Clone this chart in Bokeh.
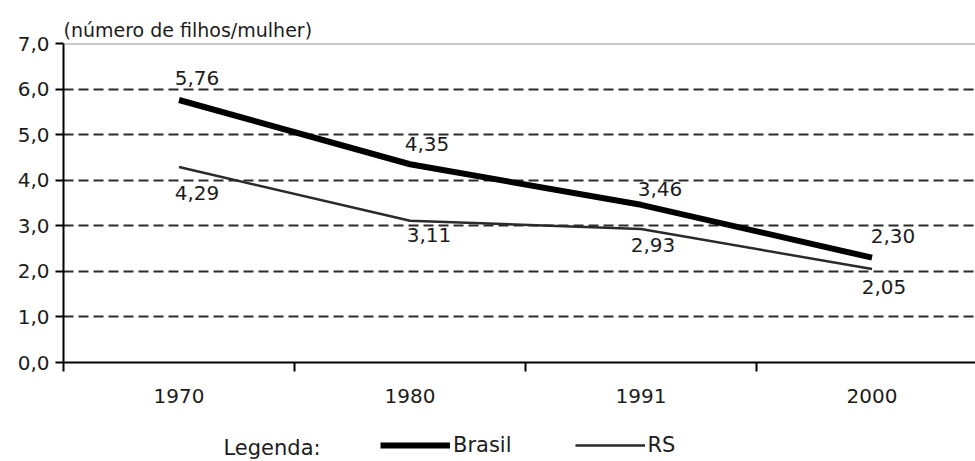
from bokeh.plotting import figure
from bokeh.layouts import column
from bokeh.models import (Range1d, FixedTicker, Span, Legend, LegendItem,
                          Label, ColumnDataSource)
from bokeh.core.properties import value
from bokeh.embed import file_html
from bokeh.resources import INLINE

# Taxa de fecundidade total (número de filhos por mulher)
years = ["1970", "1980", "1991", "2000"]
brasil = [5.76, 4.35, 3.46, 2.30]
rs = [4.29, 3.11, 2.93, 2.05]
y_ticks = [0, 1, 2, 3, 4, 5, 6, 7]
y_tick_labels = ["0,0", "1,0", "2,0", "3,0", "4,0", "5,0", "6,0", "7,0"]

FONT = "DejaVu Sans"
TEXT = "#1c1c1c"
BR_STYLE = dict(line_color="black", line_width=6)
RS_STYLE = dict(line_color="#2a2a2a", line_width=2.5)


def fmt(v):
    return f"{v:.2f}".replace(".", ",")


xpos = list(range(len(years)))

p = figure(width=975, height=415, output_backend="svg", toolbar_location=None,
           x_range=Range1d(-0.5, 3.448), y_range=Range1d(0, 7),
           min_border_left=63, min_border_right=0, min_border_top=43,
           min_border_bottom=53)
p.outline_line_color = None
p.background_fill_color = "white"
p.border_fill_color = "white"

# unit caption above the plot
p.title.text = "(número de filhos/mulher)"
p.title.align = "left"
p.title.text_font = FONT
p.title.text_font_size = "19px"
p.title.text_font_style = "normal"
p.title.text_color = TEXT
p.title.standoff = 6

# horizontal dashed grid, solid grey line at the top
p.xgrid.visible = False
p.ygrid.ticker = FixedTicker(ticks=y_ticks[1:-1])
p.ygrid.grid_line_color = "#2b2b2b"
p.ygrid.grid_line_width = 2
p.ygrid.grid_line_dash = "10 5"
p.add_layout(Span(location=y_ticks[-1], dimension="width",
                  line_color="#8f8f8f", line_width=2))

# y axis
yax = p.yaxis[0]
yax.ticker = FixedTicker(ticks=y_ticks)
yax.major_label_overrides = dict(zip(y_ticks, y_tick_labels))
yax.major_tick_out = 8
yax.major_tick_in = 0
yax.minor_tick_out = 0
yax.minor_tick_in = 0
yax.axis_line_width = 2
yax.major_tick_line_width = 2
yax.axis_line_color = "black"
yax.major_tick_line_color = "black"
yax.major_label_text_font = FONT
yax.major_label_text_font_size = "20px"
yax.major_label_text_color = TEXT
yax.major_label_standoff = 6

# x axis: labels at category centres, tick marks between categories
xax = p.xaxis[0]
bounds = [i - 0.5 for i in range(len(years) + 1)]
xax.ticker = FixedTicker(ticks=xpos, minor_ticks=bounds)
xax.major_label_overrides = dict(zip(xpos, years))
xax.major_tick_out = 0
xax.major_tick_in = 0
xax.minor_tick_out = 9
xax.minor_tick_in = 0
xax.minor_tick_line_width = 2
xax.minor_tick_line_color = "black"
xax.axis_line_width = 2
xax.axis_line_color = "black"
xax.major_label_text_font = FONT
xax.major_label_text_font_size = "20px"
xax.major_label_text_color = TEXT
xax.major_label_standoff = 17

# series
p.line(xpos, brasil, **BR_STYLE)
p.line(xpos, rs, **RS_STYLE)

# value labels beside each point
lab = ColumnDataSource(dict(
    x=xpos + xpos,
    y=brasil + rs,
    text=[fmt(v) for v in brasil + rs],
    dx=[18, 17, 19, 21, 18, 19, 12, 12],
    dy=[-22, -20, -16, -22, 26, 14, 16, 18],
))
p.text(x="x", y="y", text="text", x_offset="dx", y_offset="dy", source=lab,
       text_font=value(FONT), text_font_size="20px", text_color=TEXT,
       text_align="center", text_baseline="middle")

# legend strip under the chart; its key renderers sit outside the visible range
leg = figure(width=975, height=46, output_backend="svg", toolbar_location=None,
             x_range=Range1d(0, 1), y_range=Range1d(0, 1),
             x_axis_type=None, y_axis_type=None, min_border=0)
leg.outline_line_color = None
leg.grid.visible = False
leg.background_fill_color = "white"
leg.border_fill_color = "white"
key_br = leg.line([-2, -1], [-2, -2], **BR_STYLE)
key_rs = leg.line([-2, -1], [-2, -2], **RS_STYLE)
legend = Legend(items=[LegendItem(label="Brasil", renderers=[key_br]),
                       LegendItem(label="RS", renderers=[key_rs])],
                orientation="horizontal", location=(317, 4),
                glyph_width=70, glyph_height=20, label_height=20,
                label_standoff=3, spacing=63, padding=0, margin=0,
                border_line_alpha=0, background_fill_alpha=0,
                label_text_font=FONT, label_text_font_size="21px",
                label_text_color=TEXT)
leg.add_layout(legend)
leg.add_layout(Label(x=160, y=14, x_units="screen", y_units="screen",
                     text="Legenda:", text_font=FONT, text_font_size="21px",
                     text_color=TEXT, text_baseline="middle"))

open("out.html", "w").write(file_html(column(p, leg), INLINE))
